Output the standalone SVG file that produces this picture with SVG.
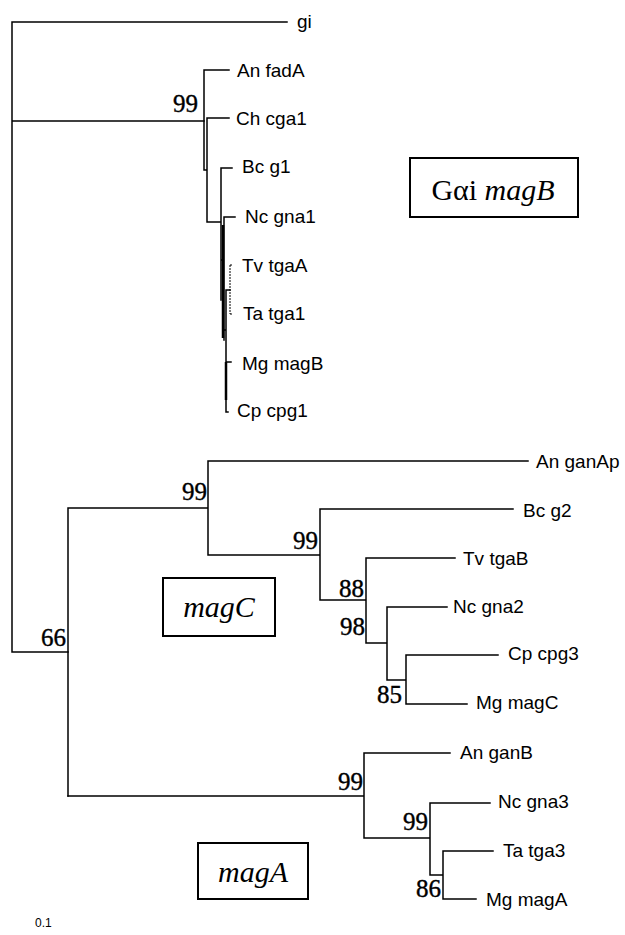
<svg xmlns="http://www.w3.org/2000/svg" width="625" height="935" viewBox="0 0 625 935">
<style>
.br{fill:none;stroke:#000;stroke-width:1.5;stroke-linecap:square}
.thin{fill:none;stroke:#000;stroke-width:1;stroke-dasharray:2 1}
.lab{font-family:"Liberation Sans",Arial,sans-serif;font-size:19px;fill:#000}
.bs{font-family:"Liberation Serif","Times New Roman",serif;font-size:25px;fill:#000;stroke:#000;stroke-width:0.4;text-anchor:end}
.box{fill:none;stroke:#000;stroke-width:2}
.cl{font-family:"Liberation Serif","Times New Roman",serif;font-size:30px;fill:#000;text-anchor:middle}
.sc{font-family:"Liberation Sans",Arial,sans-serif;font-size:12px;fill:#000}
</style>
<rect width="625" height="935" fill="#fff"/>
<g id="connectors">
<path class="br" d="M12,22 V652 M12,22 H287 M12,121 H204 M12,652 H68"/>
<path class="br" d="M204,70 V170 M204,70 H229 M204,170 H207 M207,118 V222 M207,118 H229 M207,222 H221 M221,168 V300 M221,168 H232 M221,260 H224 M224,217 V340 M224,217 H235 M224,330 H226 M226,290 V412 M226,290 H230 M226,362 H231 M226,412 H228"/>
<path class="thin" d="M230,265 V314 M230,265 H232 M230,314 H233"/>
<path fill="none" stroke="#000" stroke-width="2.5" d="M226,362 V400 M223,225 V338"/>
<path class="br" d="M68,508 V796 M68,508 H208 M208,461 V555 M208,461 H528 M208,555 H320 M320,509 V600 M320,509 H513 M320,600 H366 M366,558 V643 M366,558 H455 M366,643 H387 M387,607 V680 M387,607 H447 M387,680 H406 M406,655 V704 M406,655 H498 M406,704 H467"/>
<path class="br" d="M68,796 H364 M364,753 V838 M364,753 H450 M364,838 H430 M430,803 V875 M430,803 H490 M430,875 H443 M443,851 V899 M443,851 H493 M443,899 H476"/>
</g>
<g id="leaf-gi"><text class="lab" x="297" y="28">gi</text></g>
<g id="leaf-An-fadA"><text class="lab" x="237" y="77">An fadA</text></g>
<g id="leaf-Ch-cga1"><text class="lab" x="236" y="125">Ch cga1</text></g>
<g id="leaf-Bc-g1"><text class="lab" x="242" y="173">Bc g1</text></g>
<g id="leaf-Nc-gna1"><text class="lab" x="245" y="223">Nc gna1</text></g>
<g id="leaf-Tv-tgaA"><text class="lab" x="242" y="272">Tv tgaA</text></g>
<g id="leaf-Ta-tga1"><text class="lab" x="243" y="320">Ta tga1</text></g>
<g id="leaf-Mg-magB"><text class="lab" x="242" y="370">Mg magB</text></g>
<g id="leaf-Cp-cpg1"><text class="lab" x="237" y="417">Cp cpg1</text></g>
<g id="leaf-An-ganAp"><text class="lab" x="536" y="468">An ganAp</text></g>
<g id="leaf-Bc-g2"><text class="lab" x="523" y="517">Bc g2</text></g>
<g id="leaf-Tv-tgaB"><text class="lab" x="463" y="565">Tv tgaB</text></g>
<g id="leaf-Nc-gna2"><text class="lab" x="453" y="613">Nc gna2</text></g>
<g id="leaf-Cp-cpg3"><text class="lab" x="508" y="660">Cp cpg3</text></g>
<g id="leaf-Mg-magC"><text class="lab" x="476" y="709">Mg magC</text></g>
<g id="leaf-An-ganB"><text class="lab" x="460" y="759">An ganB</text></g>
<g id="leaf-Nc-gna3"><text class="lab" x="498" y="808">Nc gna3</text></g>
<g id="leaf-Ta-tga3"><text class="lab" x="503" y="857">Ta tga3</text></g>
<g id="leaf-Mg-magA"><text class="lab" x="486" y="906">Mg magA</text></g>
<g id="bootstraps">
<text class="bs" x="198" y="112">99</text>
<text class="bs" x="207" y="500">99</text>
<text class="bs" x="66" y="646">66</text>
<text class="bs" x="318" y="549">99</text>
<text class="bs" x="364" y="597">88</text>
<text class="bs" x="365" y="635">98</text>
<text class="bs" x="402" y="703">85</text>
<text class="bs" x="363" y="790">99</text>
<text class="bs" x="428" y="830">99</text>
<text class="bs" x="441" y="897">86</text>
</g>
<g id="box-magB">
<rect class="box" x="410" y="158" width="168" height="59"/>
<text class="cl" x="493" y="200">Gαi <tspan font-style="italic">magB</tspan></text>
</g>
<g id="box-magC">
<rect class="box" x="163" y="578" width="112" height="58"/>
<text class="cl" x="219" y="617" font-style="italic">magC</text>
</g>
<g id="box-magA">
<rect class="box" x="198" y="843" width="110" height="56"/>
<text class="cl" x="253" y="882" font-style="italic">magA</text>
</g>
<g id="scale"><text class="sc" x="35" y="927">0.1</text></g>
</svg>
